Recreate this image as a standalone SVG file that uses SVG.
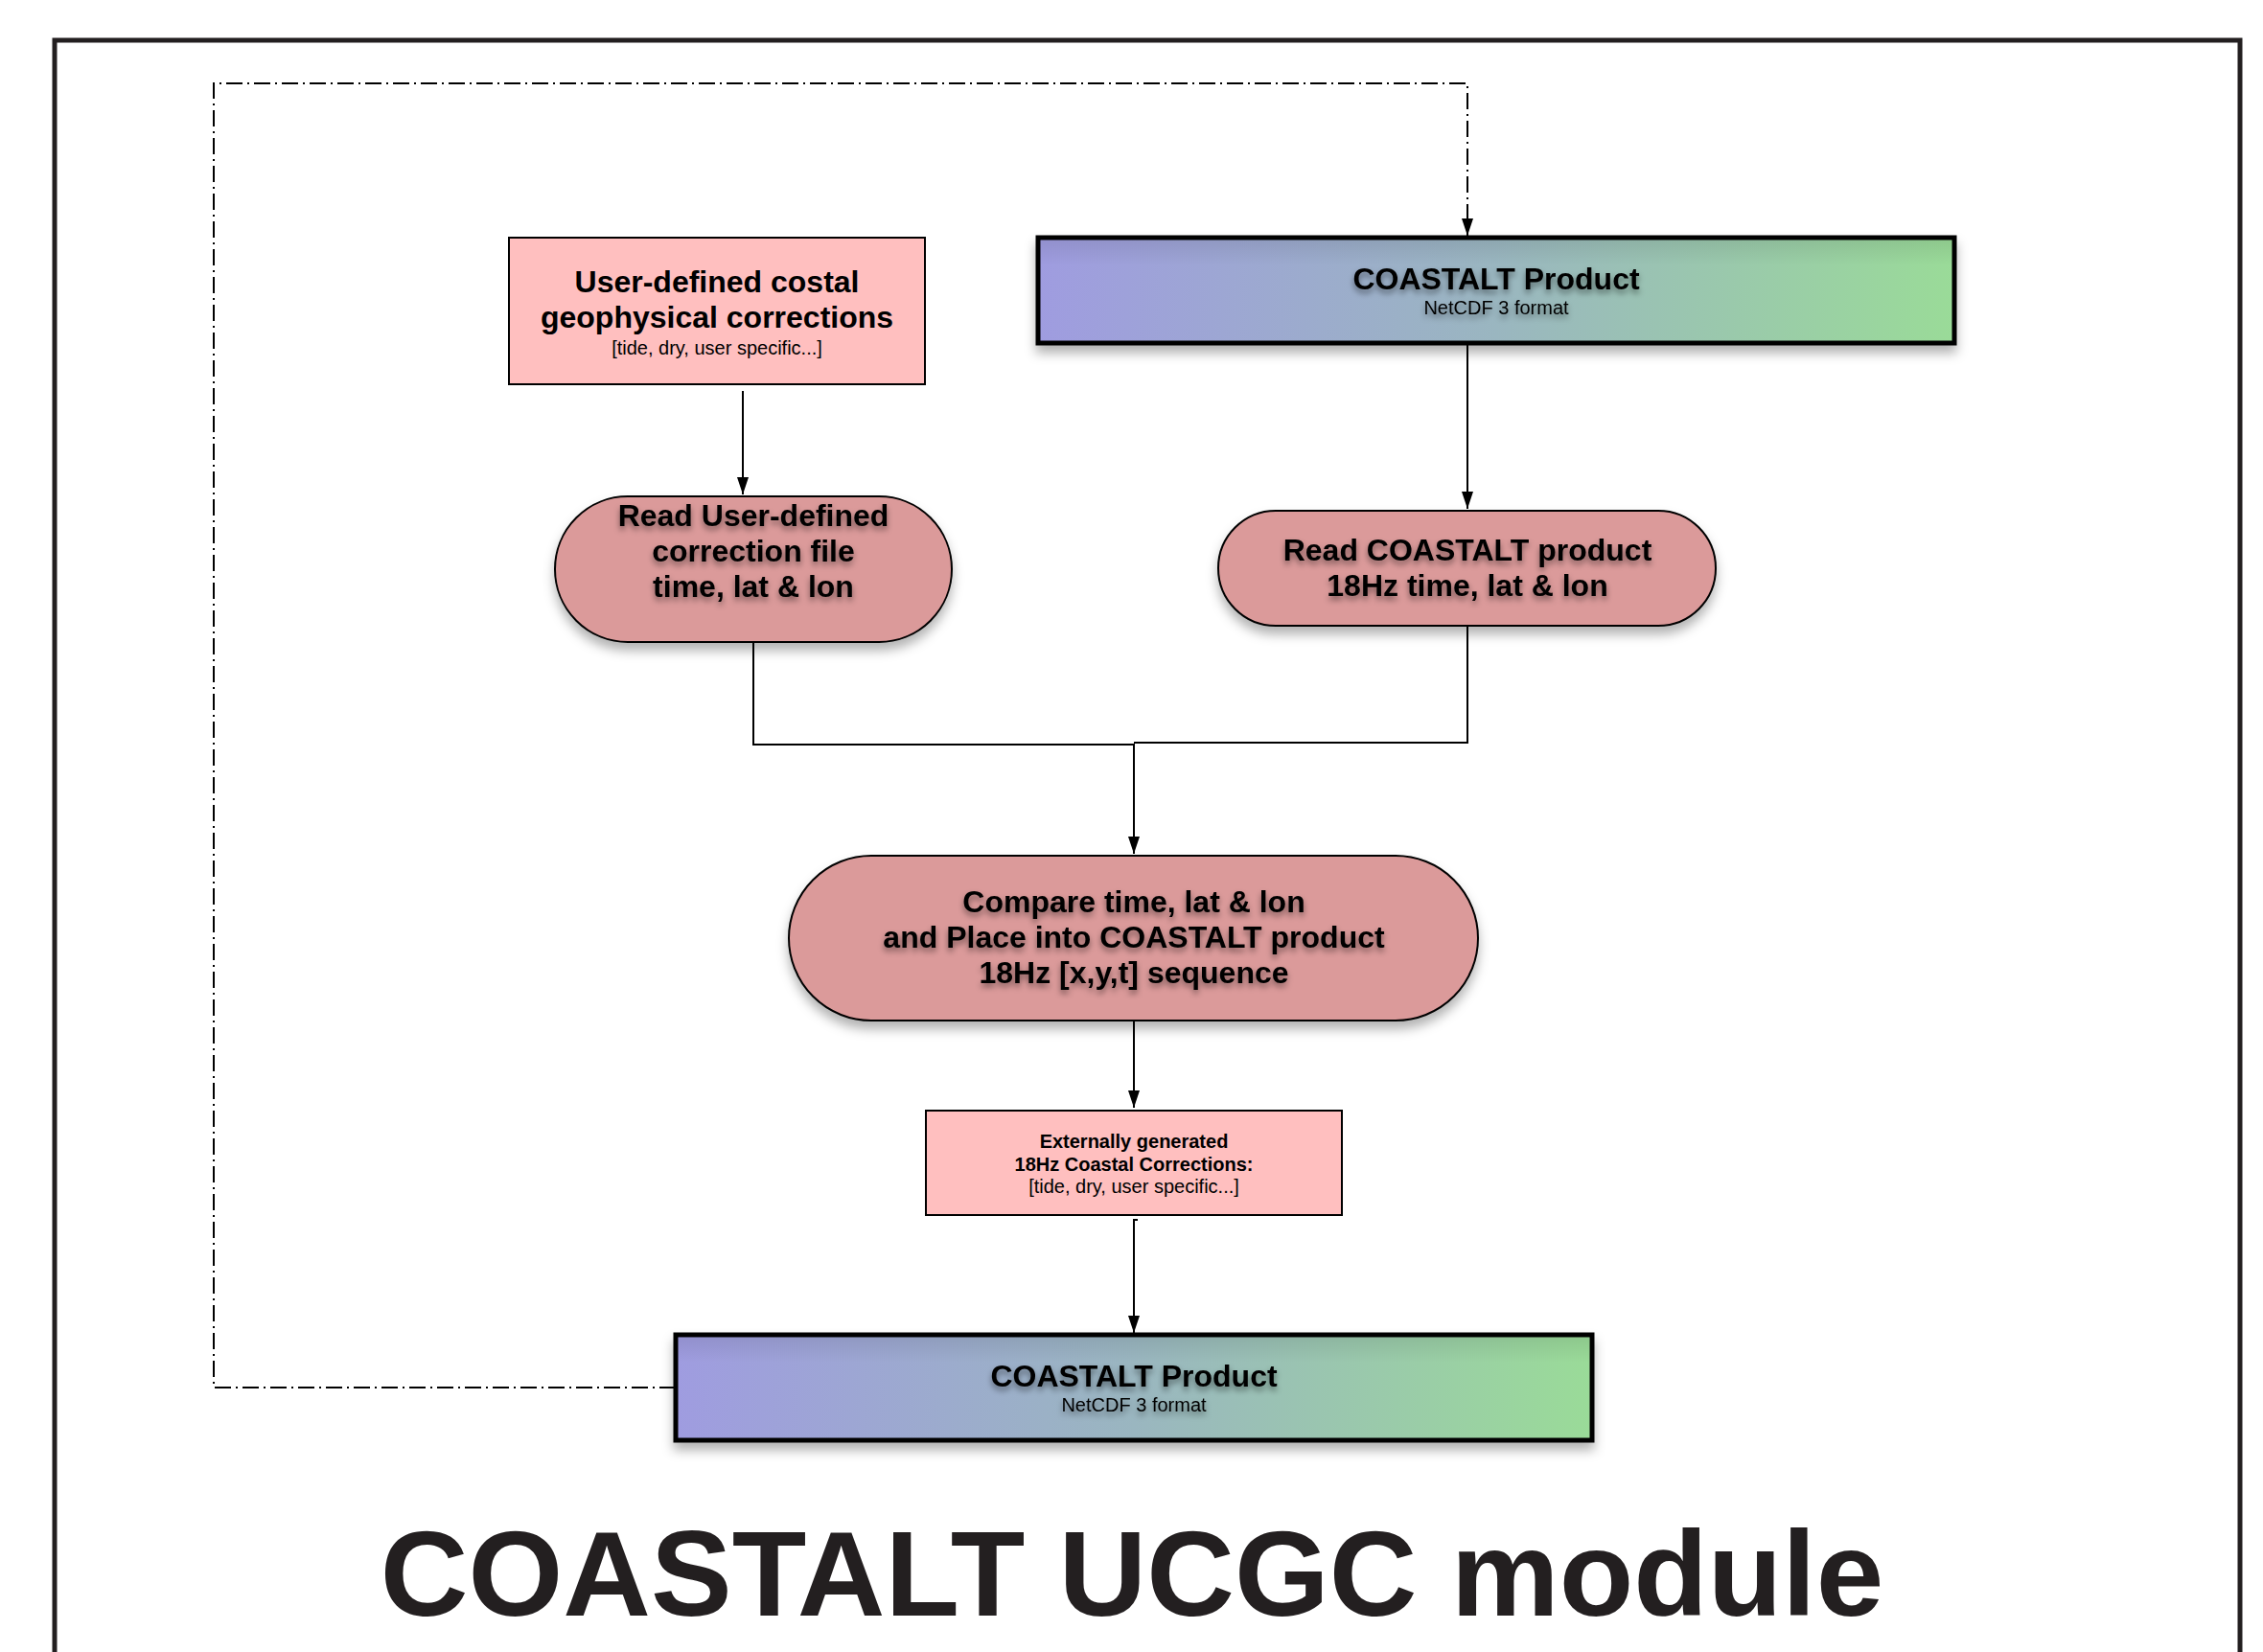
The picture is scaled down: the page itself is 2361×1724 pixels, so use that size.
<svg xmlns="http://www.w3.org/2000/svg" width="2361" height="1724" viewBox="0 0 2361 1724">
<style>
text{font-family:"Liberation Sans",Arial,Helvetica,sans-serif;fill:#000;text-anchor:middle}
.b{font-weight:bold}
.big{font-size:32px}
.sm{font-size:20px}
.box{fill:#ffbfbf;stroke:#000;stroke-width:2}
.pill{fill:#db9a9a;stroke:#000;stroke-width:2}
.prod{fill:url(#grad);stroke:#000;stroke-width:5}
.conn{fill:none;stroke:#000;stroke-width:2}
.dd{fill:none;stroke:#000;stroke-width:2;stroke-dasharray:17 5 2 5}
</style>
<defs>
<linearGradient id="grad" x1="0" y1="0" x2="1" y2="0">
<stop offset="0" stop-color="#9f9ce0"/>
<stop offset="0.5" stop-color="#9ab6c0"/>
<stop offset="1" stop-color="#9adb98"/>
</linearGradient>
<linearGradient id="shade" x1="0" y1="0" x2="0" y2="1">
<stop offset="0" stop-color="#000" stop-opacity="0.08"/>
<stop offset="0.25" stop-color="#000" stop-opacity="0"/>
<stop offset="1" stop-color="#000" stop-opacity="0"/>
</linearGradient>
<filter id="shadow" x="-10%" y="-20%" width="120%" height="150%">
<feDropShadow dx="0" dy="8" stdDeviation="6" flood-color="#000" flood-opacity="0.3"/>
</filter>
<filter id="tshadow" x="-10%" y="-30%" width="120%" height="180%">
<feDropShadow dx="0" dy="4" stdDeviation="3" flood-color="#000" flood-opacity="0.45"/>
</filter>
<marker id="arr" markerUnits="userSpaceOnUse" markerWidth="18" markerHeight="12" refX="18" refY="6" orient="auto">
<path d="M0,0 L18,6 L0,12 z" fill="#000"/>
</marker>
</defs>
<rect width="2361" height="1724" fill="#fff"/>
<path d="M57,1724 V42 H2337 V1724" fill="none" stroke="#231f20" stroke-width="5"/>

<g id="connectors">
<path class="dd" d="M705,1448 H223 V87 H1531 V246" marker-end="url(#arr)"/>
<path class="conn" d="M775,408 V516" marker-end="url(#arr)"/>
<path class="conn" d="M1531,358 V531" marker-end="url(#arr)"/>
<path class="conn" d="M786,670 V777 H1183"/>
<path class="conn" d="M1531,653 V775 H1183"/>
<path class="conn" d="M1183,776 V891" marker-end="url(#arr)"/>
<path class="conn" d="M1183,1066 V1156" marker-end="url(#arr)"/>
<path class="conn" d="M1187,1273 H1183 V1391" marker-end="url(#arr)"/>
</g>

<g id="user-defined-corrections">
<rect class="box" x="531" y="248" width="434" height="153"/>
<text class="b big" x="748" y="305">User-defined costal</text>
<text class="b big" x="748" y="342">geophysical corrections</text>
<text class="sm" x="748" y="370">[tide, dry, user specific...]</text>
</g>

<g id="coastalt-product-top">
<rect class="prod" x="1083" y="248" width="956" height="110" filter="url(#shadow)"/>
<rect x="1086" y="251" width="950" height="104" fill="url(#shade)"/>
<g filter="url(#tshadow)">
<text class="b big" x="1561" y="302">COASTALT Product</text>
<text class="sm" x="1561" y="328">NetCDF 3 format</text>
</g>
</g>

<g id="read-user-defined">
<rect class="pill" x="579" y="518" width="414" height="152" rx="76" ry="76" filter="url(#shadow)"/>
<g filter="url(#tshadow)">
<text class="b big" x="786" y="549">Read User-defined</text>
<text class="b big" x="786" y="586">correction file</text>
<text class="b big" x="786" y="623">time, lat &amp; lon</text>
</g>
</g>

<g id="read-coastalt">
<rect class="pill" x="1271" y="533" width="519" height="120" rx="60" ry="60" filter="url(#shadow)"/>
<g filter="url(#tshadow)">
<text class="b big" x="1531" y="585">Read COASTALT product</text>
<text class="b big" x="1531" y="622">18Hz time, lat &amp; lon</text>
</g>
</g>

<g id="compare">
<rect class="pill" x="823" y="893" width="719" height="172" rx="86" ry="86" filter="url(#shadow)"/>
<g filter="url(#tshadow)">
<text class="b big" x="1183" y="952">Compare time, lat &amp; lon</text>
<text class="b big" x="1183" y="989">and Place into COASTALT product</text>
<text class="b big" x="1183" y="1026">18Hz [x,y,t] sequence</text>
</g>
</g>

<g id="external-corrections">
<rect class="box" x="966" y="1159" width="434" height="109"/>
<text class="b sm" x="1183" y="1198">Externally generated</text>
<text class="b sm" x="1183" y="1222">18Hz Coastal Corrections:</text>
<text class="sm" x="1183" y="1245">[tide, dry, user specific...]</text>
</g>

<g id="coastalt-product-bottom">
<rect class="prod" x="705" y="1393" width="956" height="110" filter="url(#shadow)"/>
<rect x="708" y="1396" width="950" height="104" fill="url(#shade)"/>
<g filter="url(#tshadow)">
<text class="b big" x="1183" y="1447">COASTALT Product</text>
<text class="sm" x="1183" y="1473">NetCDF 3 format</text>
</g>
</g>

<text class="b" x="1181" y="1686" style="font-size:127px;fill:#231f20">COASTALT UCGC module</text>
</svg>
